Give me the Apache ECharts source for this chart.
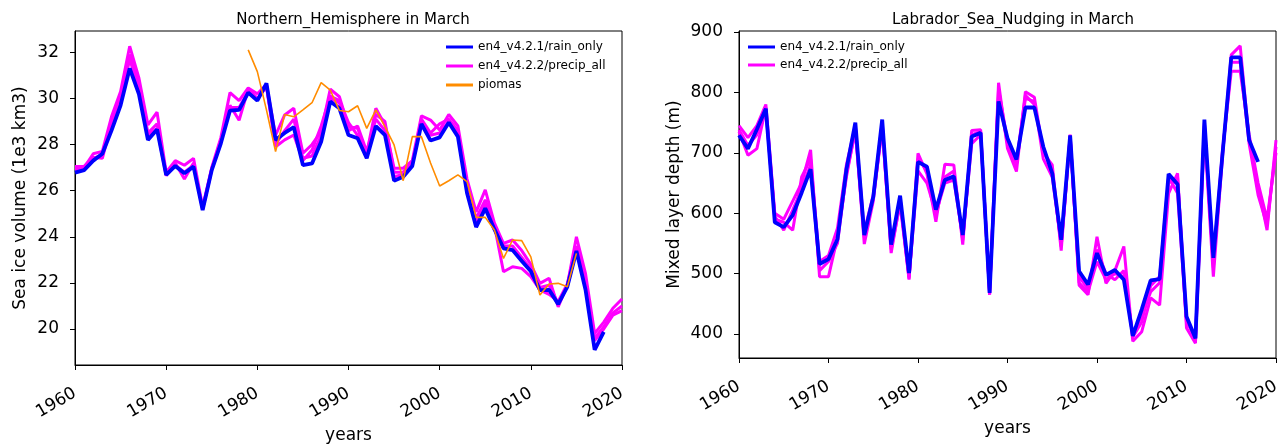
<!DOCTYPE html>
<html>
<head>
<meta charset="utf-8">
<script src="https://cdn.jsdelivr.net/npm/echarts@6/dist/echarts.min.js"></script>
<style>html,body{margin:0;padding:0;background:#fff}#c{width:1284px;height:446px}</style>
</head>
<body>
<div id="c"></div>
<script>
const years = [1960,1961,1962,1963,1964,1965,1966,1967,1968,1969,1970,1971,1972,1973,1974,1975,1976,1977,1978,1979,1980,1981,1982,1983,1984,1985,1986,1987,1988,1989,1990,1991,1992,1993,1994,1995,1996,1997,1998,1999,2000,2001,2002,2003,2004,2005,2006,2007,2008,2009,2010,2011,2012,2013,2014,2015,2016,2017,2018,2019,2020];
const xTicks = [1960,1970,1980,1990,2000,2010,2020];
const yTicksLeft = [20,22,24,26,28,30,32];
const yTicksRight = [400,500,600,700,800,900];

// Northern Hemisphere sea ice volume (1e3 km3)
const nhRainOnly = [26.78,26.89,27.3,27.6,28.6,29.7,31.3,30.2,28.2,28.65,26.68,27.07,26.75,27.04,25.16,26.89,28.05,29.47,29.5,30.25,29.9,30.65,28.2,28.5,28.75,27.11,27.18,28.12,29.86,29.57,28.41,28.27,27.4,28.8,28.41,26.43,26.6,27.07,28.89,28.17,28.31,28.95,28.34,25.9,24.42,25.23,24.33,23.5,23.42,22.95,22.5,21.69,21.7,21.08,21.83,23.38,21.7,19.1,19.88,null,null];
const nhPrecipA = [27.0,27.0,27.6,27.7,29.2,30.3,32.26,30.9,28.85,29.4,26.8,27.3,27.1,27.4,25.3,27.0,28.3,30.25,29.9,30.45,30.2,30.6,28.4,29.28,29.57,27.62,28.0,28.56,30.4,30.07,28.77,28.7,27.62,29.57,28.85,26.97,26.97,27.3,29.24,29.06,28.63,29.3,28.8,26.5,25.08,26.03,24.6,23.71,23.86,23.4,22.8,21.98,22.2,20.96,21.9,24.0,22.4,19.81,20.3,20.9,21.3];
const nhPrecipB = [27.05,27.05,27.45,27.4,28.9,30.1,31.9,30.6,28.5,28.9,26.7,27.2,26.5,27.2,25.2,26.95,28.2,29.7,29.05,30.4,30.0,30.5,27.9,28.2,28.41,27.3,27.76,28.8,30.1,29.9,28.95,28.4,27.5,29.3,29.0,26.8,26.8,27.2,29.1,28.5,28.9,29.1,28.6,26.2,24.8,25.6,24.5,22.48,22.7,22.63,22.27,21.7,21.5,21.2,21.95,23.6,22.0,19.6,20.1,20.7,21.0];
const nhPrecipC = [26.9,26.95,27.4,27.55,28.8,29.9,31.7,30.4,28.4,28.7,26.65,27.1,26.8,27.1,25.2,26.9,28.1,29.6,29.6,30.3,29.95,30.55,28.0,28.6,29.1,27.4,27.5,28.4,30.0,29.8,28.6,28.8,27.7,29.1,28.6,26.6,26.7,27.2,29.0,28.4,28.5,29.0,28.5,26.1,24.6,25.4,24.4,23.6,23.6,23.1,22.6,21.8,21.9,21.1,21.85,23.5,21.9,19.5,20.0,20.6,20.8];
const piomas = [null,null,null,null,null,null,null,null,null,null,null,null,null,null,null,null,null,null,null,32.1,31.16,29.5,27.69,29.3,29.2,29.5,29.81,30.68,30.36,29.47,29.42,29.68,28.7,29.5,28.77,27.98,26.43,28.34,28.34,27.2,26.2,26.43,26.68,26.39,24.84,24.84,24.29,23.06,23.86,23.83,23.13,21.47,21.95,21.98,21.83,23.28,null,null,null,null,null];

// Labrador Sea mixed layer depth (m)
const labRainOnly = [729,707,739,773,585,577,597,634,673,516,524,557,672,750,564,627,755,548,629,501,685,677,606,655,661,564,727,733,468,785,724,689,775,775,710,666,556,729,504,482,534,498,506,490,397,441,489,491,665,648,429,393,755,526,694,858,858,721,685,null,null];
const labPrecipA = [745,725,745,780,600,590,620,650,705,495,495,560,660,740,549,620,745,534,620,490,699,665,586,681,680,548,737,738,465,816,707,669,801,792,700,680,538,730,481,465,561,484,505,545,388,404,460,448,633,666,410,385,735,495,690,862,877,720,644,572,721];
const labPrecipB = [735,696,707,775,590,585,572,660,690,520,530,575,680,745,570,630,750,545,625,495,670,650,600,650,655,560,715,730,470,795,715,680,790,785,690,660,550,725,495,475,540,500,490,505,395,420,480,495,660,633,420,395,750,510,700,835,835,730,650,590,700];
const labPrecipC = [738,712,730,770,595,572,605,640,680,505,520,550,665,735,560,625,740,540,615,492,690,670,595,660,670,555,730,735,466,805,720,685,795,780,705,670,545,728,485,470,520,490,500,495,400,430,470,485,650,660,425,390,745,520,695,850,850,715,630,580,710];

const names = ['en4_v4.2.1/rain_only','en4_v4.2.2/precip_all','piomas'];
const pairs = arr => years.map((y,i) => [y, arr[i]]);

const FONT = 'DejaVu Sans';
const grids = [
  {left:75, top:31, width:547, height:334, show:true, borderColor:'#000', borderWidth:1, backgroundColor:'#fff', containLabel:false, outerBoundsMode:'none'},
  {left:739, top:31, width:537, height:327, show:true, borderColor:'#000', borderWidth:1, backgroundColor:'#fff', containLabel:false, outerBoundsMode:'none'}
];
function xAx(gi){
  return {type:'value', gridIndex:gi, min:1960, max:2020, interval:10,
    name:'years', nameLocation:'middle', nameGap:60,
    nameTextStyle:{fontFamily:FONT, fontSize:17, color:'#000'},
    axisLine:{lineStyle:{color:'#000', width:1}},
    axisTick:{length:5, lineStyle:{color:'#000'}, customValues:xTicks},
    axisLabel:{rotate:30, fontFamily:FONT, fontSize:17, color:'#000', margin:27, customValues:xTicks,
      formatter: v => String(v)},
    splitLine:{show:false}};
}
function yAx(gi, mn, mx, ticks, name, gap){
  return {type:'value', gridIndex:gi, min:mn, max:mx,
    name:name, nameLocation:'middle', nameGap:gap,
    nameTextStyle:{fontFamily:FONT, fontSize:17, color:'#000'},
    axisLine:{show:true, lineStyle:{color:'#000', width:1}},
    axisTick:{show:true, length:5, lineStyle:{color:'#000'}, customValues:ticks},
    axisLabel:{fontFamily:FONT, fontSize:17, color:'#000', margin:16, customValues:ticks,
      formatter: v => String(v)},
    splitLine:{show:false}};
}
function line(name, data, gi, color, width, z){
  return {type:'line', name:name, xAxisIndex:gi, yAxisIndex:gi, data:pairs(data),
    showSymbol:false, symbol:'none', connectNulls:false, z:z,
    lineStyle:{color:color, width:width}, itemStyle:{color:color}};
}
const BLUE='#0000ff', MAG='#ff00ff', ORANGE='#ff8c00';
const option = {
  animation:false,
  backgroundColor:'#fff',
  textStyle:{fontFamily:FONT},
  title:[
    {text:'Northern_Hemisphere in March', left:348, top:8, textAlign:'center',
     textStyle:{fontFamily:FONT, fontSize:15, fontWeight:'normal', color:'#000'}},
    {text:'Labrador_Sea_Nudging in March', left:1008, top:8, textAlign:'center',
     textStyle:{fontFamily:FONT, fontSize:15, fontWeight:'normal', color:'#000'}}
  ],
  legend:[
    {data:names, orient:'vertical', left:446, top:41, padding:0, icon:'rect', itemWidth:27, itemHeight:3, itemGap:7,
     textStyle:{fontFamily:FONT, fontSize:12, color:'#000'}, selectedMode:false},
    {data:names.slice(0,2), orient:'vertical', left:748, top:41, padding:0, icon:'rect', itemWidth:27, itemHeight:3, itemGap:6,
     textStyle:{fontFamily:FONT, fontSize:12, color:'#000'}, selectedMode:false}
  ],
  grid:grids,
  xAxis:[xAx(0), xAx(1)],
  yAxis:[yAx(0, 18.44, 32.92, yTicksLeft, 'Sea ice volume (1e3 km3)', 46),
         yAx(1, 360.4, 901.6, yTicksRight, 'Mixed layer depth (m)', 56)],
  series:[
    line(names[1], nhPrecipA, 0, MAG, 3, 2),
    line(names[1], nhPrecipB, 0, MAG, 3, 2),
    line(names[1], nhPrecipC, 0, MAG, 3, 2),
    line(names[0], nhRainOnly, 0, BLUE, 3.8, 3),
    line(names[2], piomas, 0, ORANGE, 1.6, 4),
    line(names[1], labPrecipA, 1, MAG, 3, 2),
    line(names[1], labPrecipB, 1, MAG, 3, 2),
    line(names[1], labPrecipC, 1, MAG, 3, 2),
    line(names[0], labRainOnly, 1, BLUE, 3.8, 3)
  ]
};
echarts.init(document.getElementById('c'), null, {renderer:'canvas'}).setOption(option);
</script>
</body>
</html>
